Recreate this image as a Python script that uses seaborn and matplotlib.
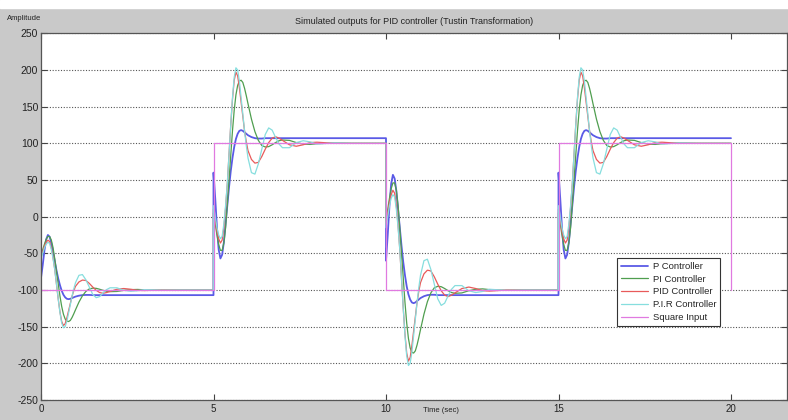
import numpy as np
import pandas as pd
import matplotlib
matplotlib.use("Agg")
import matplotlib.pyplot as plt
from matplotlib.patches import Rectangle
from matplotlib import font_manager
import seaborn as sns

# ---------------------------------------------------------------
# Closed-loop responses after a -100 -> +100 step of the input
# (time in seconds measured from the step instant)
# ---------------------------------------------------------------
t_after_step = [0, 0.05, 0.1, 0.15, 0.2, 0.25, 0.3, 0.35, 0.4, 0.45, 0.5,
                0.55, 0.6, 0.65, 0.7, 0.75, 0.8, 0.85, 0.9, 0.95, 1.0,
                1.1, 1.2, 1.3, 1.4, 1.5, 1.6, 1.7, 1.8, 1.9, 2.0,
                2.2, 2.4, 2.6, 2.8, 3.0, 3.5, 4.0, 5.0]

p_response = [60, 25, -15, -45, -57, -52, -35, -10, 15, 40, 62,
              80, 95, 106, 113, 117, 118, 117, 115, 113, 111,
              108.5, 107, 106.5, 106.5, 107, 107, 107, 107, 107, 107,
              107, 107, 107, 107, 107, 107, 107, 107]

pi_response = [5, -10, -25, -38, -46, -46, -36, -15, 16, 50, 85,
               117, 145, 166, 179, 185, 186, 183, 175, 165, 154,
               133, 116, 104, 97, 95, 95.5, 98, 101, 103.5, 104.5,
               104, 101, 99, 98.5, 99.5, 100.5, 100, 100]

pid_response = [10, -5, -20, -30, -36, -32, -15, 12, 45, 85, 125,
                160, 186, 197, 192, 176, 156, 135, 117, 102, 90,
                78, 73, 74, 82, 92, 101, 107, 109, 107, 104,
                98, 96, 98, 101, 101.5, 100, 100, 100]

pir_response = [15, 0, -15, -25, -30, -27, -10, 15, 45, 85, 125,
                162, 190, 203, 200, 185, 163, 140, 117, 97, 80,
                60, 58, 72, 92, 112, 121, 118, 108, 99, 94,
                94, 101, 103.5, 102, 99, 100.5, 100, 100]

# steady-state output for an input level of 100
settle_levels = {"P Controller": 107, "PI Controller": 100,
                 "PID Controller": 100, "P.I.R Controller": 100}

# square-wave reference
step_times = [0, 5, 10, 15]
input_levels = [-100, 100, -100, 100]
square_t = [0, 5, 5, 10, 10, 15, 15, 20, 20]
square_v = [-100, -100, 100, 100, -100, -100, 100, 100, -100]

y_ticks = [-250, -200, -150, -100, -50, 0, 50, 100, 150, 200, 250]
x_ticks = [0, 5, 10, 15, 20]

responses = {"P Controller": p_response, "PI Controller": pi_response,
             "PID Controller": pid_response, "P.I.R Controller": pir_response}
colors = {"P Controller": "#5a5ae6", "PI Controller": "#4f9e4f",
          "PID Controller": "#e85a5a", "P.I.R Controller": "#86dede",
          "Square Input": "#e07ae0"}
widths = {"P Controller": 1.3, "PI Controller": 0.9, "PID Controller": 0.9,
          "P.I.R Controller": 0.9, "Square Input": 0.9}

# superpose the step responses over the square-wave input
rows = []
T = np.array(t_after_step)
for name, resp in responses.items():
    S = settle_levels[name]
    per_unit = (np.array(resp) + S) / 200.0
    prev = 0
    for start, level in zip(step_times, input_levels):
        y = prev * S / 100.0 + (level - prev) * per_unit
        for tt, yy in zip(start + T, y):
            rows.append((name, tt, yy))
        prev = level
df = pd.DataFrame(rows, columns=["controller", "time", "amplitude"])
sq = pd.DataFrame({"time": square_t, "amplitude": square_v})

# ---------------------------------------------------------------
sns.set_theme(style="white")
names = {f.name for f in font_manager.fontManager.ttflist}
family = "Liberation Sans Narrow" if "Liberation Sans Narrow" in names else "Liberation Sans"
plt.rcParams["font.family"] = [family, "DejaVu Sans"]
plt.rcParams["axes.unicode_minus"] = False

bg = "#c9c9c9"
fig = plt.figure(figsize=(7.88, 4.2), dpi=100, facecolor=bg)
fig.patches.append(Rectangle((0, 1 - 8 / 420), 1, 8 / 420,
                             transform=fig.transFigure, color="white", zorder=0))
ax = fig.add_axes([41 / 788, 20 / 420, 746 / 788, 366.7 / 420])
ax.set_facecolor("white")

for name in responses:
    sub = df[df["controller"] == name]
    sns.lineplot(data=sub, x="time", y="amplitude", ax=ax, estimator=None,
                 sort=False, color=colors[name], lw=widths[name], label=name)
sns.lineplot(data=sq, x="time", y="amplitude", ax=ax, estimator=None,
             sort=False, color=colors["Square Input"], lw=widths["Square Input"],
             label="Square Input")

ax.set_xlim(0, 746 / 34.5)
ax.set_ylim(-250, 250)
ax.set_xticks(x_ticks)
ax.set_yticks(y_ticks)
ax.set_xticklabels([str(v) for v in x_ticks], fontsize=7)
ax.set_yticklabels([str(v) for v in y_ticks], fontsize=7.5)
ax.tick_params(direction="in", length=4, width=0.8, color="#444444",
               top=True, right=True, bottom=True, left=True, pad=2,
               labelcolor="#222222")
ax.tick_params(axis="x", pad=3)
ax.set_xlabel("")
ax.set_ylabel("")
ax.yaxis.grid(True, linestyle=(0, (1, 1.5)), color="#555555", lw=0.8)
ax.xaxis.grid(False)
for s in ax.spines.values():
    s.set_color("#555555")
    s.set_linewidth(0.9)

ax.set_title("Simulated outputs for PID controller (Tustin Transformation)",
             fontsize=6.5, pad=7, color="#222222")
fig.text(7 / 788, 1 - 18 / 420, "Amplitude", fontsize=5.5, va="center",
         ha="left", color="#222222")
fig.text(441 / 788, 1 - 411 / 420, "Time (sec)", fontsize=5.5, va="center",
         ha="center", color="#222222")

leg = ax.legend(loc="upper left", bbox_to_anchor=(0.772, 0.387),
                borderaxespad=0, fontsize=6.8, handlelength=2.9,
                handletextpad=0.5, labelspacing=0.4, borderpad=0.4,
                frameon=True, fancybox=False, framealpha=1)
leg.get_frame().set_edgecolor("#333333")
leg.get_frame().set_linewidth(0.8)

fig.savefig("out.png", dpi=100, facecolor=bg)
